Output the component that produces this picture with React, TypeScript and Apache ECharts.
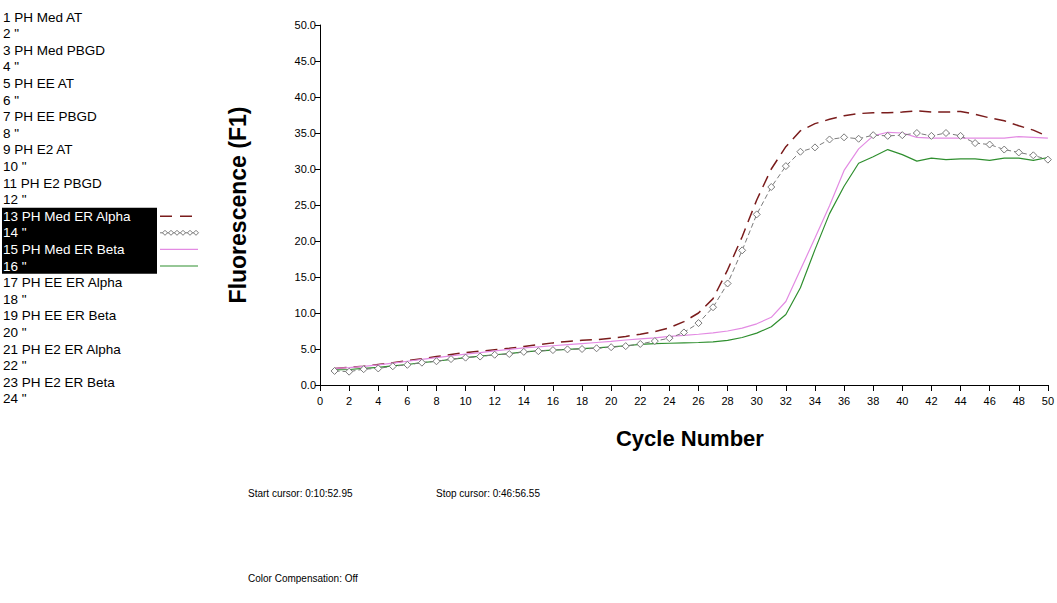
import React, { useEffect, useRef } from "react";
import * as echarts from "echarts";

const cycles = [1,2,3,4,5,6,7,8,9,10,11,12,13,14,15,16,17,18,19,20,21,22,23,24,25,26,27,28,29,30,31,32,33,34,35,36,37,38,39,40,41,42,43,44,45,46,47,48,49,50];

const medErAlpha = [2.3,2.45,2.6,2.85,3.1,3.4,3.65,3.95,4.25,4.5,4.7,4.9,5.1,5.35,5.6,5.85,6.05,6.2,6.3,6.5,6.75,7.05,7.4,7.95,8.8,10.0,12.0,16.0,20.6,25.7,30.0,33.1,35.3,36.3,36.9,37.4,37.7,37.8,37.8,37.9,38.1,37.9,37.9,38.0,37.6,37.1,36.7,36.0,35.4,34.5];
const medErAlphaRep = [1.95,1.85,2.2,2.3,2.6,2.8,3.1,3.3,3.6,3.8,3.95,4.2,4.3,4.6,4.7,4.85,4.95,5.0,5.1,5.25,5.4,5.7,6.1,6.5,7.3,8.6,10.8,14.1,18.7,23.7,27.5,30.4,32.4,33.0,34.1,34.4,34.2,34.7,34.6,34.7,35.0,34.6,35.0,34.6,33.6,33.4,32.7,32.3,31.9,31.3];
const medErBeta = [2.3,2.4,2.6,2.8,3.05,3.3,3.55,3.8,4.05,4.3,4.5,4.75,4.95,5.15,5.3,5.45,5.6,5.75,5.9,6.05,6.25,6.4,6.55,6.75,6.9,7.05,7.25,7.5,7.9,8.5,9.4,11.6,16.0,20.4,24.9,29.8,32.8,34.6,35.1,35.0,34.4,34.3,34.3,34.3,34.3,34.3,34.3,34.5,34.4,34.3];
const medErBetaRep = [2.1,2.15,2.3,2.45,2.65,2.85,3.1,3.3,3.55,3.8,4.0,4.2,4.35,4.6,4.75,4.85,4.95,5.05,5.15,5.3,5.45,5.65,5.75,5.8,5.85,5.9,6.0,6.2,6.6,7.2,8.1,9.8,13.5,18.8,23.8,27.6,30.8,31.7,32.7,32.0,31.1,31.5,31.3,31.4,31.4,31.2,31.5,31.5,31.2,31.6];

const sampleNames = [
  "1 PH Med AT", '2 "', "3 PH Med PBGD", '4 "', "5 PH EE AT", '6 "',
  "7 PH EE PBGD", '8 "', "9 PH E2 AT", '10 "', "11 PH E2 PBGD", '12 "',
  "13 PH Med ER Alpha", '14 "', "15 PH Med ER Beta", '16 "',
  "17 PH EE ER Alpha", '18 "', "19 PH EE ER Beta", '20 "',
  "21 PH E2 ER Alpha", '22 "', "23 PH E2 ER Beta", '24 "',
];
const selected = [12, 13, 14, 15];

const startCursor = "Start cursor: 0:10:52.95";
const stopCursor = "Stop cursor: 0:46:56.55";
const colorComp = "Color Compensation: Off";

const FONT = "'Liberation Sans', Arial, sans-serif";
const C_RED = "#7a1c1c";
const C_GRAY = "#7a7a7a";
const C_PINK = "#e38be3";
const C_GREEN = "#2f8f2f";

const toPairs = (v: number[]) => cycles.map((c, i) => [c, v[i]]);

export default function App() {
  const ref = useRef<HTMLDivElement>(null);
  useEffect(() => {
    if (!ref.current) return;
    const chart = echarts.init(ref.current, undefined, { renderer: "svg" });

    const rowY = (i: number) => 17 + i * 16.6;
    const graphics: any[] = [];
    graphics.push({
      type: "rect",
      shape: { x: 2, y: rowY(12) - 8.5, width: 155, height: 66 },
      style: { fill: "#000" },
    });
    sampleNames.forEach((n, i) => {
      graphics.push({
        type: "text",
        x: 3,
        y: rowY(i),
        style: {
          text: n,
          font: `13.5px ${FONT}`,
          fill: selected.includes(i) ? "#fff" : "#000",
          verticalAlign: "middle",
        },
      });
    });
    const lx0 = 160, lx1 = 198;
    graphics.push({
      type: "line",
      shape: { x1: lx0, y1: rowY(12), x2: lx1, y2: rowY(12) },
      style: { stroke: C_RED, lineWidth: 1.5, lineDash: [12, 8] },
    });
    graphics.push({
      type: "line",
      shape: { x1: lx0, y1: rowY(13), x2: lx1, y2: rowY(13) },
      style: { stroke: C_GRAY, lineWidth: 1 },
    });
    [165, 171, 177, 183, 190, 196].forEach((x) => {
      const y = rowY(13);
      graphics.push({
        type: "polygon",
        shape: { points: [[x, y - 2.5], [x + 2.5, y], [x, y + 2.5], [x - 2.5, y]] },
        style: { fill: "#fff", stroke: C_GRAY, lineWidth: 1 },
      });
    });
    graphics.push({
      type: "line",
      shape: { x1: lx0, y1: rowY(14), x2: lx1, y2: rowY(14) },
      style: { stroke: C_PINK, lineWidth: 1.2 },
    });
    graphics.push({
      type: "line",
      shape: { x1: lx0, y1: rowY(15), x2: lx1, y2: rowY(15) },
      style: { stroke: C_GREEN, lineWidth: 1.2 },
    });
    graphics.push({
      type: "text", x: 248, y: 493,
      style: { text: startCursor, font: `10px ${FONT}`, fill: "#000", verticalAlign: "middle" },
    });
    graphics.push({
      type: "text", x: 436, y: 493,
      style: { text: stopCursor, font: `10px ${FONT}`, fill: "#000", verticalAlign: "middle" },
    });
    graphics.push({
      type: "text", x: 248, y: 578,
      style: { text: colorComp, font: `10px ${FONT}`, fill: "#000", verticalAlign: "middle" },
    });

    chart.setOption({
      animation: false,
      backgroundColor: "#fff",
      textStyle: { fontFamily: FONT },
      grid: { left: 320, top: 25, right: 7, bottom: 218, containLabel: false },
      xAxis: {
        type: "value",
        min: 0,
        max: 50,
        interval: 2,
        name: "Cycle Number",
        nameLocation: "middle",
        nameGap: 42,
        nameTextStyle: {
          fontSize: 22, fontWeight: "bold", color: "#000", fontFamily: FONT,
          padding: [0, 0, 0, 12],
        },
        axisLine: { show: true, onZero: false, lineStyle: { color: "#000", width: 1 } },
        axisTick: { show: true, length: 6, lineStyle: { color: "#000" } },
        axisLabel: { color: "#000", fontSize: 11, margin: 10, fontFamily: FONT },
        splitLine: { show: false },
      },
      yAxis: {
        type: "value",
        min: 0,
        max: 50,
        interval: 5,
        name: "Fluorescence (F1)",
        nameLocation: "middle",
        nameGap: 71,
        nameRotate: 90,
        nameTextStyle: { fontSize: 23, fontWeight: "bold", color: "#000", fontFamily: FONT },
        axisLine: { show: true, lineStyle: { color: "#000", width: 1 } },
        axisTick: { show: true, length: 5, lineStyle: { color: "#000" } },
        axisLabel: {
          color: "#000",
          fontSize: 11,
          margin: 4,
          fontFamily: FONT,
          formatter: (v: number) => v.toFixed(1),
        },
        splitLine: { show: false },
      },
      series: [
        {
          name: "13 PH Med ER Alpha",
          type: "line",
          data: toPairs(medErAlpha),
          showSymbol: false,
          lineStyle: { color: C_RED, width: 1.5, type: [12, 7] },
          itemStyle: { color: C_RED },
        },
        {
          name: "15 PH Med ER Beta",
          type: "line",
          data: toPairs(medErBeta),
          showSymbol: false,
          lineStyle: { color: C_PINK, width: 1.2 },
          itemStyle: { color: C_PINK },
        },
        {
          name: "16",
          type: "line",
          data: toPairs(medErBetaRep),
          showSymbol: false,
          lineStyle: { color: C_GREEN, width: 1.2 },
          itemStyle: { color: C_GREEN },
        },
        {
          name: "14",
          type: "line",
          data: toPairs(medErAlphaRep),
          symbol: "diamond",
          symbolSize: 7,
          showSymbol: true,
          lineStyle: { color: C_GRAY, width: 1, type: [5, 3] },
          itemStyle: { color: "#fff", borderColor: C_GRAY, borderWidth: 1 },
        },
      ],
      graphic: graphics,
    });
    return () => chart.dispose();
  }, []);
  return (
    <div
      ref={ref}
      style={{ position: "fixed", left: 0, top: 0, width: 1057, height: 603, background: "#fff" }}
    />
  );
}
